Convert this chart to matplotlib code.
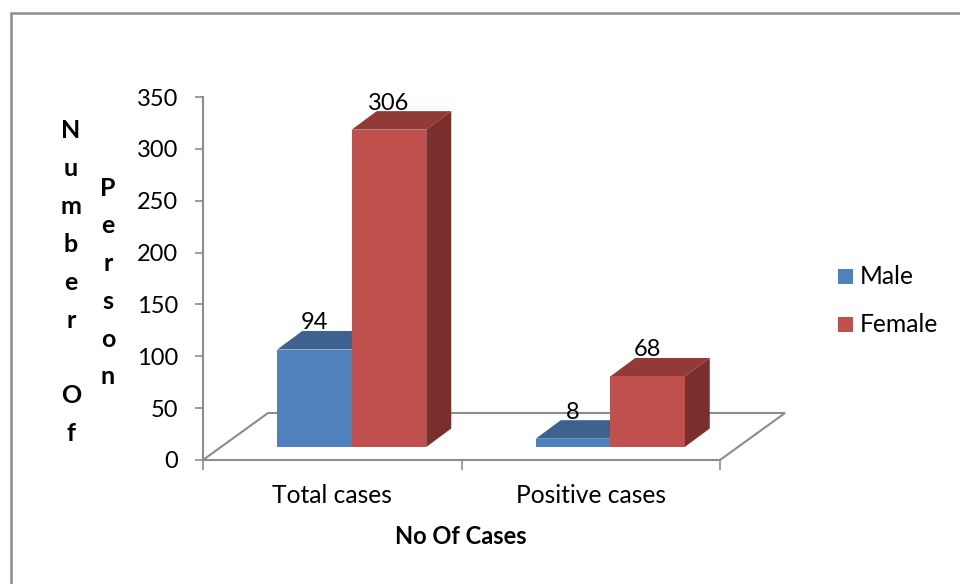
import matplotlib
matplotlib.use('Agg')
import matplotlib.pyplot as plt
from matplotlib.patches import Rectangle, Polygon

plt.rcParams['font.family'] = ['Lato', 'DejaVu Sans']

categories = ['Total cases', 'Positive cases']
male = [94, 8]
female = [306, 68]
y_ticks = [0, 50, 100, 150, 200, 250, 300, 350]

W, H = 960, 584
GREY = '#8c8c8c'
BLUE = '#4f81bd'
RED = '#c0504d'
BLUE_TOP, BLUE_SIDE = '#3d628f', '#2f4d71'
RED_TOP, RED_SIDE = '#913a38', '#7a2f2d'

fig = plt.figure(figsize=(W / 100, H / 100), dpi=100)

# full canvas layer in pixels for the frame, legend and stacked axis titles
bg = fig.add_axes([0, 0, 1, 1])
bg.set_xlim(0, W)
bg.set_ylim(H, 0)
bg.axis('off')
bg.plot([11, 11, W], [H, 13, 13], color=GREY, lw=1.8, solid_joinstyle='miter')

# front plane of the plot, x in categories, y in persons
left, right, top, bottom = 203, 720, 97, 460
ax = fig.add_axes([left / W, 1 - bottom / H, (right - left) / W, (bottom - top) / H])
ax.set_xlim(0, 2)
ax.set_ylim(0, 350)
ax.patch.set_alpha(0)
for s in ['top', 'right']:
    ax.spines[s].set_visible(False)
for s in ['left', 'bottom']:
    ax.spines[s].set_color(GREY)
    ax.spines[s].set_linewidth(1.5)
ax.set_yticks(y_ticks)
ax.set_xticks([0, 1, 2])
ax.set_xticklabels([])
ax.tick_params(axis='y', length=6, width=1.2, color=GREY, labelsize=17, pad=12, labelcolor='black')
ax.tick_params(axis='x', length=7, width=1.2, color=GREY)
for lab in ax.get_yticklabels():
    lab.set_va('center_baseline')

px_x = 2 / (right - left)
px_y = 350 / (bottom - top)

# floor parallelogram going back from the front plane
floor_dx, floor_dy = 65 * px_x, 47 * px_y
ax.plot([0, floor_dx, 2 + floor_dx, 2], [0, floor_dy, floor_dy, 0], color=GREY, lw=1.5,
        clip_on=False, zorder=1, solid_joinstyle='miter')

# bars sit part of the way back on the floor and have their own depth
base = 13 * px_y
shift = 19.5 * px_x
depth_x, depth_y = 25 * px_x, 18.5 * px_y
bar_w = 74.5 * px_x


def draw_bar(x0, value, face, top_c, side_c, z):
    y0 = base
    y1 = base + value
    x1 = x0 + bar_w
    ax.add_patch(Polygon([(x0, y1), (x1, y1), (x1 + depth_x, y1 + depth_y), (x0 + depth_x, y1 + depth_y)],
                         fc=top_c, ec='none', zorder=z, clip_on=False))
    ax.add_patch(Polygon([(x1, y0), (x1 + depth_x, y0 + depth_y), (x1 + depth_x, y1 + depth_y), (x1, y1)],
                         fc=side_c, ec='none', zorder=z, clip_on=False))
    ax.bar(x0, value, width=bar_w, bottom=y0, align='edge', color=face, zorder=z + 0.1, clip_on=False)


for i, cat in enumerate(categories):
    centre = i + 0.5 + shift
    x_m = centre - bar_w
    draw_bar(x_m, male[i], BLUE, BLUE_TOP, BLUE_SIDE, 2)
    draw_bar(centre, female[i], RED, RED_TOP, RED_SIDE, 3)
    # value labels sit just over the back edge of each bar
    ax.text(x_m + bar_w / 2, base + male[i] + 15.5, str(male[i]), ha='center', va='bottom',
            fontsize=17, zorder=5, clip_on=False, linespacing=1)
    ax.text(centre + bar_w / 2, base + female[i] + 15.5, str(female[i]), ha='center', va='bottom',
            fontsize=17, zorder=5, clip_on=False, linespacing=1)
    bg.text(left + (i + 0.5) * (right - left) / 2, 495.5, cat, ha='center', va='center', fontsize=17.7)

bg.text(461, 536.5, 'No Of Cases', ha='center', va='center', fontsize=17, fontweight='bold')

# stacked letters for the vertical axis titles
col1 = ['N', 'u', 'm', 'b', 'e', 'r', '', 'O', 'f']
col2 = ['P', 'e', 'r', 's', 'o', 'n']
for i, c in enumerate(col1):
    bg.text(71, 131 + i * 37.8, c, ha='center', va='center', fontsize=18, fontweight='bold')
for i, c in enumerate(col2):
    bg.text(108, 188 + i * 37.8, c, ha='center', va='center', fontsize=18, fontweight='bold')

# legend
bg.add_patch(Rectangle((838, 269), 15, 15, fc=BLUE, ec='none'))
bg.add_patch(Rectangle((838, 317), 15, 15, fc=RED, ec='none'))
bg.text(860, 277, 'Male', ha='left', va='center', fontsize=17.7)
bg.text(860, 325, 'Female', ha='left', va='center', fontsize=17.7)

fig.savefig('out.png', dpi=100)
